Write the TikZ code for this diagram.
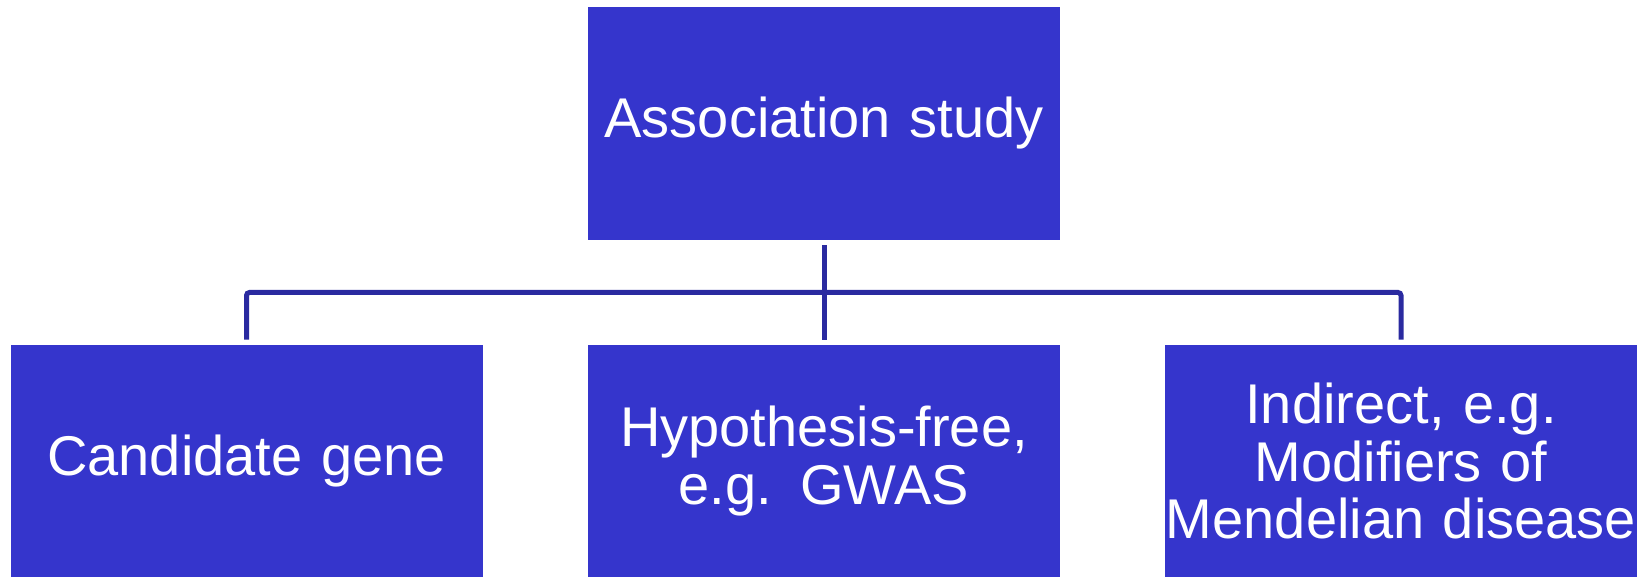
\documentclass[tikz,border=0pt]{standalone}
\usepackage{fontspec}
\setmainfont{Liberation Sans}
\definecolor{boxblue}{RGB}{53,53,204}
\definecolor{lineblue}{RGB}{42,42,160}
\begin{document}
\begin{tikzpicture}[x=0.5pt,y=-0.5pt,
  box/.style={fill=boxblue,text=white,inner sep=0pt,text width=236pt,
    minimum height=116.5pt,align=center,font=\fontsize{28}{28.8}\selectfont},
  bbox/.style={box,minimum height=116pt},
  conn/.style={draw=lineblue,line width=2.5pt}]
\useasboundingbox (0,0) rectangle (1649,577);
\node[box] (top) at (824,123.5) {Association study};
\node[bbox] (left) at (246.5,461) {Candidate gene};
\node[bbox] (mid) at (824,461) {Hypothesis-free,\\e.g. GWAS};
\node[bbox] (right) at (1401,461) {Indirect, e.g.\\Modifiers of\\Mendelian disease};
\coordinate (bus) at (824,292.5);
\draw[conn] ([yshift=-2.5pt]top.south) -- ([yshift=2.5pt]mid.north);
\draw[conn,rounded corners=1.5pt] ([yshift=2.5pt]left.north) |- (bus) -| ([yshift=2.5pt]right.north);
\end{tikzpicture}
\end{document}
